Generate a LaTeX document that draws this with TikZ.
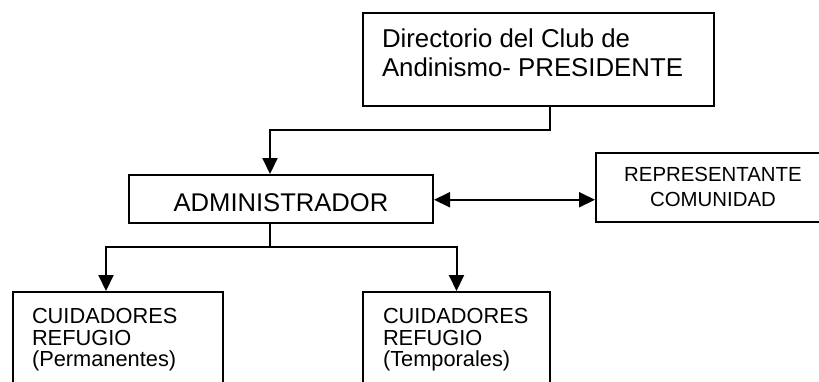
\documentclass[tikz,border=0pt]{standalone}
\usepackage{fontspec}
\setmainfont{Liberation Sans}
\usetikzlibrary{arrows.meta}
\tikzset{
  box/.style={draw, line width=2pt, inner sep=0pt, anchor=north west},
  conn/.style={line width=2pt},
  tip/.tip={Triangle[length=16pt,width=15pt]},
  arr/.style={conn, -tip},
  dblarr/.style={conn, tip-tip},
}
\begin{document}
\begin{tikzpicture}[x=1pt,y=1pt]
\useasboundingbox (0,0) rectangle (819,-381);
\clip (0,0) rectangle (819,-381);
\node[box] (dir) at (362,-12) {\parbox[c][93pt][t]{351pt}{\fontsize{25.8pt}{29.3pt}\selectfont\raggedright\leftskip=19pt\rule{0pt}{34pt}Directorio del Club de\\Andinismo- PRESIDENTE}};
\node[box] (admin) at (128,-174) {\parbox[c][47.5pt][t]{304pt}{\fontsize{25.6pt}{29pt}\selectfont\centering\rule{0pt}{36pt}ADMINISTRADOR}};
\node[box] (rep) at (595,-152) {\parbox[c][69pt][t]{234pt}{\fontsize{20.4pt}{24.6pt}\selectfont\centering\rule{0pt}{28.7pt}REPRESENTANTE\\COMUNIDAD}};
\node[box] (cp) at (12,-291) {\parbox[c][100pt][t]{210pt}{\fontsize{21.8pt}{21.3pt}\selectfont\raggedright\leftskip=19pt\rule{0pt}{31.7pt}CUIDADORES\\REFUGIO\\(Permanentes)}};
\node[box] (ct) at (362,-291) {\parbox[c][100pt][t]{187pt}{\fontsize{21.8pt}{21.3pt}\selectfont\raggedright\leftskip=20pt\rule{0pt}{31.7pt}CUIDADORES\\REFUGIO\\(Temporales)}};
\draw[arr] ([xshift=11.8pt]dir.south) -- ++(0,-22.5) -| ([xshift=-11pt]admin.north);
\draw[conn] ([xshift=-11pt]admin.south) -- ++(0,-23) coordinate (split);
\draw[arr] (split) -| ([xshift=-12pt]cp.north);
\draw[arr] (split) -| (ct.north);
\draw[dblarr] ([yshift=-1pt]admin.east) -- ([yshift=-1pt]admin.east -| rep.west);
\end{tikzpicture}
\end{document}
